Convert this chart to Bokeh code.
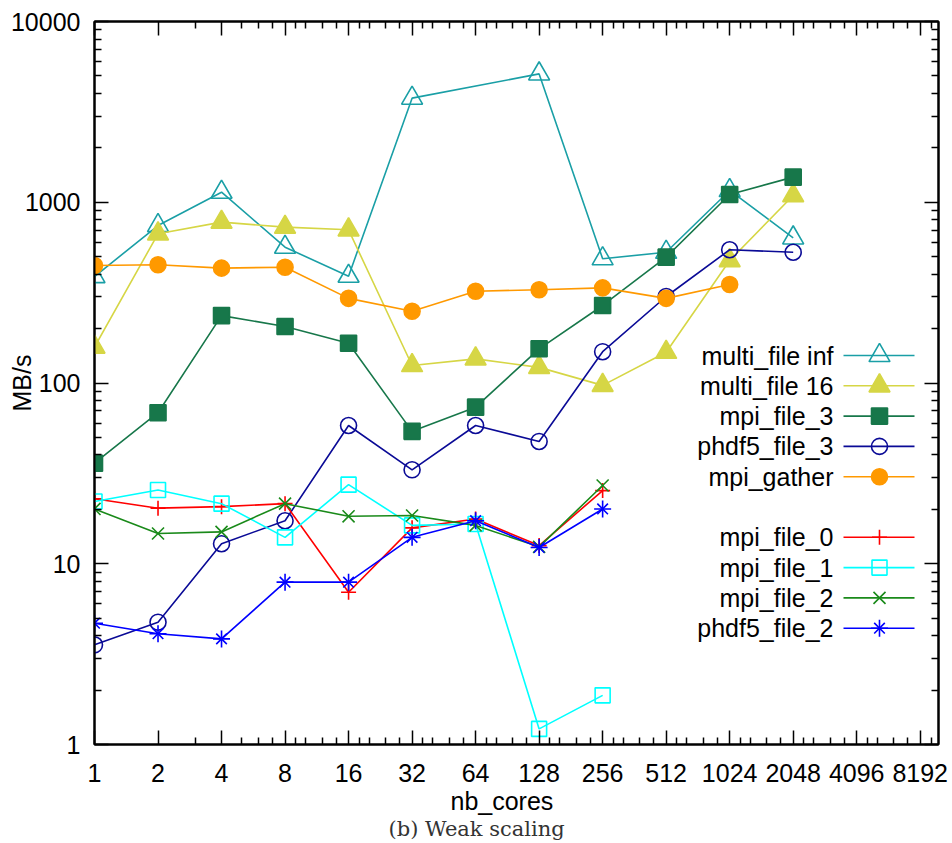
import math
from bokeh.plotting import figure
from bokeh.models import FixedTicker, LogAxis, Label, PrintfTickFormatter, CustomJSTickFormatter, Title
from bokeh.embed import file_html
from bokeh.resources import INLINE

# ---------------- data ----------------
cores = [1, 2, 4, 8, 16, 32, 64, 128, 256, 512, 1024, 2048]
x_ticks = [1, 2, 4, 8, 16, 32, 64, 128, 256, 512, 1024, 2048, 4096, 8192]
y_ticks = [1, 10, 100, 1000, 10000]

multi_file_inf_x = [1, 2, 4, 8, 16, 32, 128, 256, 512, 1024, 2048]
multi_file_inf = [388, 743, 1137, 564, 390, 3766, 5130, 487, 529, 1162, 635]
multi_file_16 = [158, 669, 776, 728, 704, 125, 136, 122, 97, 148, 476, 1089]
mpi_file_3 = [36, 68.5, 236, 205.5, 166, 54, 73.5, 154.6, 268.5, 497, 1104, 1377]
phdf5_file_3 = [3.56, 4.75, 12.9, 17.3, 58.2, 33.1, 58.2, 47.5, 149, 301, 546, 529]
mpi_gather_x = [1, 2, 4, 8, 16, 32, 64, 128, 256, 512, 1024]
mpi_gather = [447, 451, 432, 437, 294, 249.5, 322, 328, 336, 294, 351]
small_x = [1, 2, 4, 8, 16, 32, 64, 128, 256]
mpi_file_0 = [22.9, 20.3, 20.7, 21.5, 6.96, 15.8, 17.7, 12.6, 25.4]
mpi_file_1 = [22.1, 25.6, 21.5, 14.0, 27.4, 16.3, 16.6, 1.22, 1.87]
mpi_file_2 = [20.1, 14.7, 15.0, 21.5, 18.3, 18.5, 16.3, 12.4, 27.1]
phdf5_file_2 = [4.69, 4.10, 3.84, 7.91, 7.91, 14.0, 17.3, 12.3, 20.1]

FONT = "Liberation Sans"
FS = "25px"

# tick positions
x_minor = [3, 5, 6, 7]
for k in range(3, 14):
    b = 2 ** k
    for f in (1.125, 1.25, 1.5, 1.75):
        if b * f <= 10000:
            x_minor.append(b * f)
y_minor = [m * 10 ** k for k in range(4) for m in range(2, 10)]

FW, FH = 844, 723
XMIN, XMAX, YMIN, YMAX = 1, 10000, 1, 10000

p = figure(x_axis_type="log", y_axis_type="log",
           x_range=(XMIN, XMAX), y_range=(YMIN, YMAX),
           frame_width=FW, frame_height=FH,
           min_border_left=94, min_border_top=21, min_border_right=10, min_border_bottom=40,
           output_backend="svg", toolbar_location=None)
p.background_fill_color = "white"
p.border_fill_color = "white"
p.xgrid.visible = False
p.ygrid.visible = False
p.outline_line_color = "black"
p.outline_line_width = 2


def style_axis(ax, show_labels=True):
    ax.major_tick_in = 14
    ax.major_tick_out = 0
    ax.minor_tick_in = 7
    ax.minor_tick_out = 0
    ax.major_tick_line_width = 1.5
    ax.minor_tick_line_width = 1.5
    ax.major_tick_line_color = "black"
    ax.minor_tick_line_color = "black"
    ax.axis_line_width = 2
    ax.axis_line_color = "black"
    if show_labels:
        ax.formatter = PrintfTickFormatter(format="%d")
        ax.major_label_text_font = FONT
        ax.major_label_text_font_size = FS
        ax.major_label_text_color = "black"
    else:
        ax.formatter = CustomJSTickFormatter(code="return ''")
        ax.major_label_text_font_size = "1px"
        ax.major_label_standoff = 0


p.xaxis[0].ticker = FixedTicker(ticks=x_ticks, minor_ticks=x_minor)
p.yaxis[0].ticker = FixedTicker(ticks=y_ticks, minor_ticks=y_minor)
style_axis(p.xaxis[0])
style_axis(p.yaxis[0])
p.xaxis[0].major_label_standoff = 19
p.yaxis[0].major_label_standoff = 14

p.yaxis[0].axis_label = "MB/s"
p.yaxis[0].axis_label_text_font = FONT
p.yaxis[0].axis_label_text_font_size = FS
p.yaxis[0].axis_label_text_font_style = "normal"
p.yaxis[0].axis_label_text_color = "black"
p.yaxis[0].axis_label_standoff = -28

top = LogAxis(ticker=FixedTicker(ticks=x_ticks, minor_ticks=x_minor))
right = LogAxis(ticker=FixedTicker(ticks=y_ticks, minor_ticks=y_minor))
style_axis(top, False)
style_axis(right, False)
p.add_layout(top, "above")
p.add_layout(right, "right")

xlab = Title(text="nb_cores", align="left", offset=356, standoff=0,
             text_font=FONT, text_font_size=FS, text_font_style="normal",
             text_color="black")
p.add_layout(xlab, "below")
cap = Title(text="(b) Weak scaling", align="left", offset=294, standoff=0,
            text_font="DejaVu Serif", text_font_size="21px", text_font_style="normal",
            text_color="#333333")
p.add_layout(cap, "below")

LW = 1.6
series = [
    ("multi_file inf", multi_file_inf_x, multi_file_inf, "#1a9fa6", "triangle", 21, False),
    ("multi_file 16", cores, multi_file_16, "#d6d645", "triangle", 21, True),
    ("mpi_file_3", cores, mpi_file_3, "#17774a", "square", 16, True),
    ("phdf5_file_3", cores, phdf5_file_3, "#0a0a96", "circle", 16, False),
    ("mpi_gather", mpi_gather_x, mpi_gather, "#ff9900", "circle", 16, True),
    None,
    ("mpi_file_0", small_x, mpi_file_0, "#ff0000", "cross", 15, False),
    ("mpi_file_1", small_x, mpi_file_1, "#00ffff", "square", 15, False),
    ("mpi_file_2", small_x, mpi_file_2, "#1a8a1a", "x", 17, False),
    ("phdf5_file_2", small_x, phdf5_file_2, "#0000ff", "asterisk8", 16, False),
]


def sx2d(px):
    return 10 ** (math.log10(XMIN) + (math.log10(XMAX) - math.log10(XMIN)) * px / FW)


def sy2d(py):
    return 10 ** (math.log10(YMIN) + (math.log10(YMAX) - math.log10(YMIN)) * py / FH)


def draw_markers(xs, ys, color, marker, size, filled):
    fill = color if filled else None
    if marker == "asterisk8":
        p.scatter(xs, ys, marker="cross", size=size + 1, line_color=color, line_width=LW)
        p.scatter(xs, ys, marker="x", size=size - 1, line_color=color, line_width=LW)
    else:
        p.scatter(xs, ys, marker=marker, size=size, line_color=color,
                  fill_color=fill, line_width=LW)


# legend geometry (screen, relative to frame)
leg_text_x = 739
leg_line_x0, leg_line_x1, leg_mark_x = 749, 820, 785
row_y0 = 389
row_step = 30.3

for i, s in enumerate(series):
    if s is None:
        continue
    name, xs, ys, color, marker, size, filled = s
    p.line(xs, ys, line_color=color, line_width=LW)
    draw_markers(xs, ys, color, marker, size, filled)
    ry = row_y0 - i * row_step
    p.add_layout(Label(x=leg_text_x, y=ry, x_units="screen", y_units="screen",
                       text=name, text_align="right", text_baseline="middle",
                       text_font=FONT, text_font_size=FS, text_color="black"))
    yd = sy2d(ry)
    p.line([sx2d(leg_line_x0), sx2d(leg_line_x1)], [yd, yd], line_color=color, line_width=LW)
    draw_markers([sx2d(leg_mark_x)], [yd], color, marker, size, filled)

open("out.html", "w").write(file_html(p, INLINE))
